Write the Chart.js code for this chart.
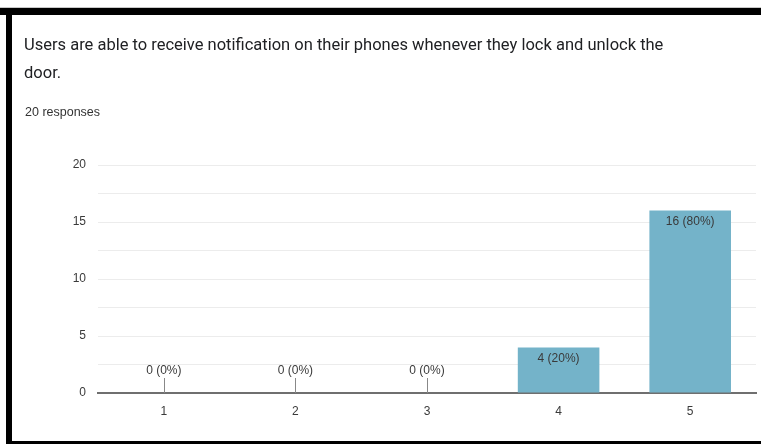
<!DOCTYPE html>
<html>
<head>
<meta charset="utf-8">
<title>Notification on lock and unlock</title>
<script src="https://cdn.jsdelivr.net/npm/chart.js@4.4.1/dist/chart.umd.min.js"></script>
<style>
	html, body { margin: 0; padding: 0; background: #fff; }
	#page { position: relative; width: 761px; height: 444px; overflow: hidden; }
	#chart { position: absolute; left: 0; top: 0; }
	.rule { position: absolute; background: #000; }
	#topLine { position: absolute; left: 0; top: 7px; width: 761px; height: 1px; background: #c8c8c8; }
	.question { position: absolute; left: 24px; font-family: Roboto, "Liberation Sans", sans-serif; font-size: 16.5px; color: #202124; }
	#responses { position: absolute; left: 25px; top: 105px; font-family: "Liberation Sans", Arial, sans-serif; font-size: 12.5px; color: #333; }
</style>
</head>
<body>
<div id="page">
	<canvas id="chart" width="761" height="444"></canvas>
	<div id="topLine"></div>
	<div class="rule" style="left:0;top:8px;width:761px;height:7px"></div>
	<div class="rule" style="left:6px;top:8px;width:6px;height:436px"></div>
	<div class="rule" style="left:6px;top:441px;width:755px;height:3px"></div>
	<div class="question" style="top:35px">Users are able to receive notification on their phones whenever they lock and unlock the</div>
	<div class="question" style="top:63px">door.</div>
	<div id="responses">20 responses</div>
</div>
<script>
const ratings = ["1", "2", "3", "4", "5"];
const counts = [0, 0, 0, 4, 16];
const totalResponses = 20;

const labelFont = "12px 'Liberation Sans', Arial, sans-serif";

// writes "n (p%)" inside the top of each bar, or over a short stem when the count is zero
const valueLabels = {
	id: "valueLabels",
	afterDatasetsDraw(chart) {
		const ctx = chart.ctx;
		const meta = chart.getDatasetMeta(0);
		ctx.save();
		ctx.font = labelFont;
		ctx.fillStyle = "#3a3a3a";
		ctx.textAlign = "center";
		meta.data.forEach((bar, i) => {
			const v = counts[i];
			const text = v + " (" + Math.round(v / totalResponses * 100) + "%)";
			if (v === 0) {
				ctx.strokeStyle = "#888";
				ctx.lineWidth = 1;
				ctx.beginPath();
				ctx.moveTo(Math.round(bar.x) + 0.5, bar.base);
				ctx.lineTo(Math.round(bar.x) + 0.5, bar.base - 15);
				ctx.stroke();
				ctx.textBaseline = "alphabetic";
				ctx.fillText(text, bar.x, bar.base - 19);
			} else {
				ctx.textBaseline = "top";
				ctx.fillText(text, bar.x, bar.y + 5);
			}
		});
		ctx.restore();
	}
};

new Chart(document.getElementById("chart"), {
	type: "bar",
	data: {
		labels: ratings,
		datasets: [{
			data: counts,
			backgroundColor: "#74b3c9",
			borderWidth: 0,
			categoryPercentage: 1,
			barPercentage: 0.62
		}]
	},
	options: {
		responsive: false,
		animation: false,
		layout: { padding: { top: 165, right: 5, bottom: 0, left: 0 } },
		scales: {
			x: {
				grid: { display: false },
				border: { display: true, color: "#6f6f6f", width: 2 },
				ticks: { color: "#3a3a3a", font: { family: "'Liberation Sans', Arial, sans-serif", size: 12 }, padding: 3 },
				afterFit(scale) { scale.height = 51; }
			},
			y: {
				min: 0,
				max: 20,
				grid: { color: "#ececec", drawTicks: false },
				border: { display: false },
				ticks: {
					stepSize: 2.5,
					color: "#3a3a3a",
					padding: 12,
					font: { family: "'Liberation Sans', Arial, sans-serif", size: 12 },
					callback: v => (v % 5 === 0 ? v : "")
				},
				afterFit(scale) { scale.width = 98; }
			}
		},
		plugins: {
			legend: { display: false },
			tooltip: { enabled: false }
		}
	},
	plugins: [valueLabels]
});
</script>
</body>
</html>
